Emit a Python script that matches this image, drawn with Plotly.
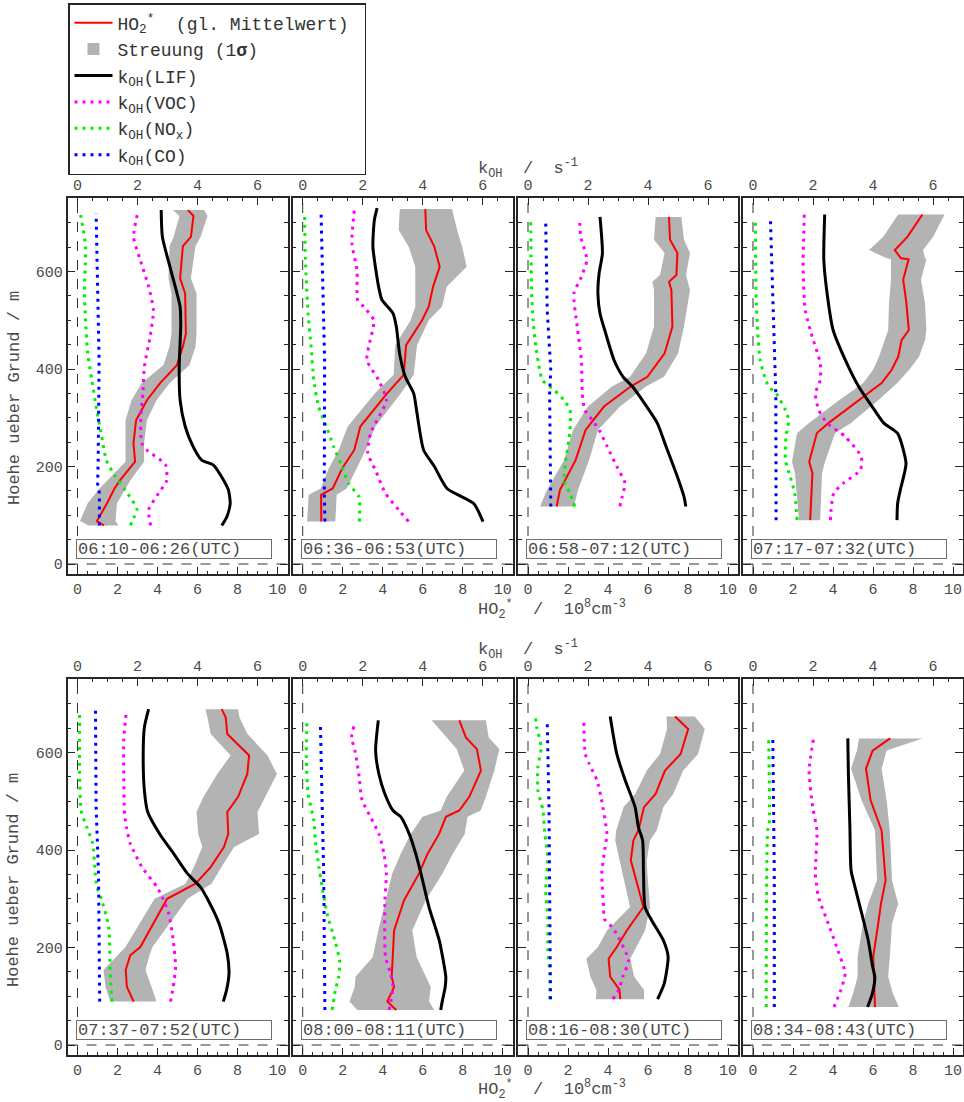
import plotly.graph_objects as go

# ---------------- data (heights in m, HO2* in 1e8 cm^-3, kOH in s^-1) ----------------
TIMES = ["06:10-06:26(UTC)", "06:36-06:53(UTC)", "06:58-07:12(UTC)", "07:17-07:32(UTC)",
         "07:37-07:52(UTC)", "08:00-08:11(UTC)", "08:16-08:30(UTC)", "08:34-08:43(UTC)"]
HO2_TICKS = [0, 2, 4, 6, 8, 10]
KOH_TICKS = [0, 2, 4, 6]
H_TICKS = [0, 200, 400, 600]

# Panel 1
P1_H = [79, 88, 124, 155, 172, 210, 248, 295, 336, 371, 408, 446, 473, 555, 586, 652, 671, 714, 726]
P1_HO2 = [1.33, 0.97, 1.47, 1.85, 2.13, 2.88, 2.8, 2.93, 3.47, 4.13, 4.97, 5.27, 5.42, 5.38, 5.13, 5.27, 5.67, 5.8, 5.52]
P1_LO = [0.55, 0.13, 0.5, 1.1, 1.5, 2.4, 2.4, 2.4, 2.7, 3.2, 4.3, 4.6, 4.7, 4.7, 4.55, 4.6, 4.8, 5.1, 4.77]
P1_HI = [2.05, 1.9, 1.97, 2.4, 2.65, 3.33, 3.33, 3.47, 3.95, 4.6, 5.6, 5.9, 5.95, 5.95, 5.67, 5.9, 6.15, 6.5, 6.33]
P1_LIF_H = [79, 97, 124, 152, 172, 203, 213, 244, 282, 336, 405, 487, 528, 603, 671, 726]
P1_LIF = [4.81, 4.98, 5.09, 5.03, 4.87, 4.53, 4.14, 3.83, 3.59, 3.42, 3.39, 3.44, 3.42, 3.11, 2.83, 2.79]
P1_VOC_H = [79, 111, 145, 169, 203, 234, 248, 302, 350, 405, 466, 521, 569, 624, 671, 721]
P1_VOC = [2.44, 2.37, 2.7, 2.96, 2.94, 2.31, 2.14, 2.11, 2.18, 2.23, 2.42, 2.53, 2.37, 2.09, 1.87, 2.01]
P1_NOX_H = [79, 94, 111, 124, 152, 183, 213, 261, 316, 377, 432, 555, 651, 689, 721]
P1_NOX = [1.76, 1.87, 1.98, 1.89, 1.59, 1.23, 0.96, 0.81, 0.64, 0.48, 0.34, 0.23, 0.27, 0.18, 0.09]
P1_CO_H = [79, 145, 165, 213, 418, 555, 719]
P1_CO = [0.73, 0.73, 0.67, 0.69, 0.72, 0.68, 0.62]

# Panel 2
P2_H = [87, 142, 155, 196, 234, 282, 350, 388, 449, 500, 528, 569, 610, 651, 685, 728]
P2_HO2 = [0.93, 0.92, 1.5, 1.97, 2.58, 2.88, 4.22, 5.05, 5.17, 5.97, 6.3, 6.52, 6.85, 6.58, 6.17, 6.13]
P2_LO = [0.22, 0.3, 0.9, 1.3, 1.8, 2.25, 3.6, 4.55, 4.63, 5.4, 5.63, 5.63, 5.63, 5.3, 4.8, 4.85]
P2_HI = [1.63, 1.7, 2.2, 2.7, 3.15, 3.63, 4.9, 5.55, 5.72, 6.3, 6.97, 7.2, 8.2, 7.97, 7.72, 7.47]
P2_LIF_H = [87, 124, 155, 200, 234, 309, 350, 384, 432, 487, 514, 542, 569, 651, 706, 730]
P2_LIF = [6.01, 5.7, 4.81, 4.39, 4.03, 3.81, 3.7, 3.42, 3.23, 3.12, 3.01, 2.64, 2.53, 2.34, 2.39, 2.48]
P2_VOC_H = [87, 111, 145, 193, 227, 268, 336, 377, 418, 446, 500, 528, 542, 603, 658, 726]
P2_VOC = [3.53, 3.2, 2.76, 2.42, 2.17, 2.26, 2.79, 2.53, 2.14, 2.2, 2.37, 2.03, 1.83, 1.81, 1.64, 1.72]
P2_NOX_H = [87, 138, 165, 200, 241, 282, 323, 377, 446, 514, 624, 721]
P2_NOX = [1.89, 1.87, 1.53, 1.31, 1.03, 0.79, 0.53, 0.37, 0.28, 0.18, 0.09, 0.06]
P2_CO_H = [87, 145, 418, 555, 726]
P2_CO = [0.74, 0.72, 0.73, 0.68, 0.61]

# Panel 3
P3_H = [118, 152, 213, 275, 323, 364, 384, 432, 487, 562, 579, 593, 638, 665, 712]
P3_HO2 = [1.43, 1.6, 2.38, 2.88, 3.8, 5.13, 5.97, 6.83, 7.22, 7.17, 7.05, 7.42, 7.47, 7.1, 7.05]
P3_LO = [0.6, 0.95, 1.8, 2.25, 3.0, 4.2, 5.1, 5.9, 6.3, 6.3, 6.22, 6.6, 6.83, 6.3, 6.38]
P3_HI = [2.3, 2.5, 3.05, 3.5, 4.6, 5.9, 6.8, 7.5, 7.8, 8.1, 8.0, 7.9, 8.1, 7.8, 7.67]
P3_LIF_H = [118, 138, 179, 248, 289, 336, 364, 384, 418, 473, 514, 555, 596, 637, 712]
P3_LIF = [5.26, 5.2, 4.98, 4.56, 4.31, 3.81, 3.48, 3.17, 2.87, 2.59, 2.4, 2.33, 2.37, 2.48, 2.4]
P3_VOC_H = [118, 138, 166, 200, 241, 275, 302, 316, 350, 418, 487, 555, 589, 624, 671, 706]
P3_VOC = [3.06, 3.14, 3.23, 2.96, 2.64, 2.37, 2.06, 1.89, 1.81, 1.78, 1.64, 1.53, 1.78, 1.96, 1.76, 1.72]
P3_NOX_H = [118, 145, 172, 213, 268, 316, 336, 357, 377, 398, 446, 500, 555, 706]
P3_NOX = [1.56, 1.4, 1.2, 1.26, 1.39, 1.4, 1.2, 0.87, 0.48, 0.39, 0.26, 0.17, 0.12, 0.09]
P3_CO_H = [118, 350, 398, 521, 702]
P3_CO = [0.76, 0.72, 0.76, 0.64, 0.59]

# Panel 4
P4_H = [90, 186, 210, 268, 289, 336, 371, 398, 425, 459, 480, 535, 583, 625, 627, 644, 671, 717]
P4_HO2 = [2.86, 2.97, 2.81, 3.19, 3.77, 5.27, 6.43, 6.93, 7.26, 7.43, 7.79, 7.67, 7.51, 7.78, 7.40, 7.09, 7.72, 8.47]
P4_LO = [2.3, 2.1, 1.95, 2.2, 2.8, 4.3, 5.5, 6.0, 6.3, 6.6, 6.76, 6.8, 6.9, 6.9, 6.7, 5.8, 6.5, 7.26]
P4_HI = [3.36, 3.45, 3.6, 4.1, 4.9, 6.26, 7.2, 7.8, 8.3, 8.6, 8.67, 8.6, 8.4, 8.67, 8.6, 8.5, 9.0, 9.58]
P4_LIF_H = [90, 124, 152, 206, 268, 289, 323, 364, 418, 480, 555, 624, 717]
P4_LIF = [4.8, 4.82, 4.91, 5.1, 4.82, 4.36, 3.97, 3.52, 3.08, 2.67, 2.47, 2.36, 2.39]
P4_VOC_H = [90, 145, 166, 193, 220, 261, 289, 316, 350, 377, 412, 473, 521, 610, 717]
P4_VOC = [2.58, 2.69, 3.02, 3.58, 3.61, 3.08, 2.47, 2.19, 2.08, 2.24, 2.24, 1.94, 1.74, 1.67, 1.71]
P4_NOX_H = [90, 145, 179, 213, 261, 295, 316, 350, 364, 384, 418, 473, 555, 709]
P4_NOX = [1.47, 1.39, 1.24, 1.08, 1.1, 1.19, 1.08, 0.77, 0.52, 0.39, 0.24, 0.16, 0.1, 0.08]
P4_CO_H = [90, 350, 487, 712]
P4_CO = [0.77, 0.76, 0.69, 0.58]

# Panel 5
P5_H = [89, 119, 154, 184, 201, 300, 331, 365, 406, 433, 478, 509, 556, 594, 638, 672, 689]
P5_HO2 = [2.81, 2.47, 2.41, 2.64, 3.14, 4.48, 5.9, 6.66, 7.32, 7.54, 7.49, 8.03, 8.49, 8.58, 7.49, 7.41, 7.21]
P5_LO = [1.64, 1.4, 1.3, 2.0, 2.4, 3.85, 5.4, 5.82, 6.24, 6.04, 5.95, 6.3, 6.99, 7.66, 6.66, 6.5, 6.4]
P5_HI = [3.95, 3.7, 3.4, 3.6, 3.75, 5.5, 6.7, 7.2, 7.83, 9.08, 9.0, 9.4, 9.97, 9.5, 8.5, 8.1, 8.03]
P5_LIF_H = [89, 113, 147, 188, 249, 300, 324, 352, 392, 433, 478, 522, 597, 652, 689]
P5_LIF = [4.86, 4.97, 5.05, 4.99, 4.72, 4.33, 4.1, 3.66, 3.21, 2.74, 2.34, 2.23, 2.19, 2.23, 2.37]
P5_VOC_H = [89, 119, 160, 215, 270, 304, 324, 365, 413, 447, 474, 556, 625, 686]
P5_VOC = [3.1, 3.19, 3.27, 3.19, 3.04, 2.82, 2.65, 2.15, 1.76, 1.63, 1.57, 1.54, 1.54, 1.63]
P5_NOX_H = [89, 147, 242, 297, 324, 352, 413, 447, 481, 556, 686]
P5_NOX = [1.15, 1.09, 1.04, 0.81, 0.65, 0.59, 0.51, 0.31, 0.12, 0.07, 0.07]
P5_CO_H = [89, 352, 488, 689]
P5_CO = [0.74, 0.7, 0.62, 0.6]

# Panel 6
P6_H = [72, 89, 119, 140, 180, 235, 297, 352, 392, 433, 468, 481, 509, 563, 607, 631, 666]
P6_HO2 = [4.68, 4.23, 4.57, 4.45, 4.5, 4.57, 5.07, 5.82, 6.24, 6.82, 7.16, 7.83, 8.33, 8.91, 8.71, 8.16, 7.83]
P6_LO = [2.73, 2.34, 2.6, 2.64, 3.5, 3.78, 4.15, 4.48, 4.9, 5.4, 5.99, 6.9, 7.2, 8.08, 7.7, 7.2, 6.45]
P6_HI = [6.57, 6.32, 6.4, 6.15, 5.7, 5.48, 6.15, 6.99, 7.5, 8.1, 8.24, 8.9, 9.16, 9.58, 9.83, 9.3, 9.16]
P6_LIF_H = [72, 92, 119, 140, 215, 283, 352, 392, 433, 468, 481, 515, 556, 604, 666]
P6_LIF = [4.6, 4.66, 4.75, 4.77, 4.55, 4.21, 3.94, 3.77, 3.55, 3.27, 3.01, 2.74, 2.54, 2.43, 2.52]
P6_VOC_H = [72, 119, 147, 181, 297, 352, 392, 433, 468, 502, 556, 604, 631, 655]
P6_VOC = [2.88, 3.01, 2.93, 2.76, 2.74, 2.79, 2.71, 2.54, 2.26, 1.98, 1.87, 1.74, 1.63, 1.71]
P6_NOX_H = [72, 113, 140, 174, 215, 270, 324, 365, 420, 461, 515, 590, 666]
P6_NOX = [0.98, 1.09, 1.2, 1.23, 1.07, 0.81, 0.65, 0.54, 0.42, 0.37, 0.18, 0.12, 0.14]
P6_CO_H = [72, 352, 488, 659]
P6_CO = [0.74, 0.7, 0.65, 0.59]

# Panel 7
P7_H = [94, 113, 140, 177, 201, 235, 283, 352, 379, 420, 440, 488, 515, 563, 597, 648, 674]
P7_HO2 = [4.61, 4.58, 4.11, 4.03, 4.44, 4.94, 5.77, 5.32, 5.14, 5.27, 5.52, 5.8, 6.38, 6.85, 7.63, 8.01, 7.35]
P7_LO = [3.4, 3.42, 3.12, 2.92, 3.5, 3.95, 5.1, 4.74, 4.6, 4.36, 4.41, 4.78, 5.36, 5.94, 6.6, 6.95, 6.93]
P7_HI = [5.8, 5.8, 5.31, 5.11, 5.44, 5.85, 6.1, 5.97, 5.94, 6.1, 6.43, 6.77, 7.26, 7.76, 8.5, 8.84, 8.34]
P7_LIF_H = [94, 126, 181, 215, 256, 283, 352, 420, 447, 488, 543, 597, 674]
P7_LIF = [4.32, 4.54, 4.67, 4.51, 4.12, 3.9, 3.85, 3.82, 3.68, 3.57, 3.24, 2.96, 2.74]
P7_VOC_H = [94, 113, 140, 174, 229, 246, 259, 283, 352, 406, 433, 509, 543, 577, 597, 666]
P7_VOC = [2.83, 3.02, 3.16, 3.35, 2.94, 2.74, 2.54, 2.52, 2.46, 2.57, 2.63, 2.43, 2.3, 2.04, 1.91, 1.86]
P7_NOX_H = [94, 147, 195, 263, 317, 386, 433, 481, 522, 570, 611, 652, 672]
P7_NOX = [0.73, 0.73, 0.66, 0.66, 0.59, 0.66, 0.56, 0.5, 0.33, 0.33, 0.44, 0.29, 0.25]
P7_CO_H = [94, 283, 488, 666]
P7_CO = [0.75, 0.72, 0.7, 0.64]

# Panel 8
P8_H = [78, 105, 140, 181, 249, 290, 338, 440, 502, 567, 604, 629]
P8_HO2 = [6.1, 6.08, 6.05, 6.01, 6.26, 6.4, 6.63, 6.43, 5.88, 5.65, 5.98, 6.86]
P8_LO = [4.77, 5.0, 5.23, 5.23, 5.5, 5.76, 6.2, 6.1, 5.43, 4.9, 5.2, 5.3]
P8_HI = [7.29, 7.0, 6.76, 6.84, 6.95, 7.26, 6.95, 6.84, 6.68, 6.43, 6.68, 8.47]
P8_LIF_H = [78, 106, 140, 160, 215, 283, 324, 358, 447, 556, 629]
P8_LIF = [3.82, 3.98, 4.06, 3.99, 3.84, 3.57, 3.4, 3.27, 3.23, 3.18, 3.16]
P8_VOC_H = [78, 113, 147, 201, 249, 304, 352, 440, 488, 563, 629]
P8_VOC = [2.7, 2.93, 3.07, 2.79, 2.51, 2.18, 2.08, 2.13, 1.99, 1.87, 2.02]
P8_NOX_H = [78, 440, 454, 629]
P8_NOX = [0.44, 0.49, 0.54, 0.52]
P8_CO_H = [78, 352, 629]
P8_CO = [0.71, 0.71, 0.66]

PANELS = [
    (P1_H, P1_HO2, P1_LO, P1_HI, P1_LIF_H, P1_LIF, P1_VOC_H, P1_VOC, P1_NOX_H, P1_NOX, P1_CO_H, P1_CO),
    (P2_H, P2_HO2, P2_LO, P2_HI, P2_LIF_H, P2_LIF, P2_VOC_H, P2_VOC, P2_NOX_H, P2_NOX, P2_CO_H, P2_CO),
    (P3_H, P3_HO2, P3_LO, P3_HI, P3_LIF_H, P3_LIF, P3_VOC_H, P3_VOC, P3_NOX_H, P3_NOX, P3_CO_H, P3_CO),
    (P4_H, P4_HO2, P4_LO, P4_HI, P4_LIF_H, P4_LIF, P4_VOC_H, P4_VOC, P4_NOX_H, P4_NOX, P4_CO_H, P4_CO),
    (P5_H, P5_HO2, P5_LO, P5_HI, P5_LIF_H, P5_LIF, P5_VOC_H, P5_VOC, P5_NOX_H, P5_NOX, P5_CO_H, P5_CO),
    (P6_H, P6_HO2, P6_LO, P6_HI, P6_LIF_H, P6_LIF, P6_VOC_H, P6_VOC, P6_NOX_H, P6_NOX, P6_CO_H, P6_CO),
    (P7_H, P7_HO2, P7_LO, P7_HI, P7_LIF_H, P7_LIF, P7_VOC_H, P7_VOC, P7_NOX_H, P7_NOX, P7_CO_H, P7_CO),
    (P8_H, P8_HO2, P8_LO, P8_HI, P8_LIF_H, P8_LIF, P8_VOC_H, P8_VOC, P8_NOX_H, P8_NOX, P8_CO_H, P8_CO),
]

# ---------------- styling / layout ----------------
W, H = 964, 1102
FONT = "Liberation Mono, Courier New, monospace"
TXT = "#4a4a4a"
FRAME = "#262626"
PANEL_LEFT = [67.5, 292.7, 518.0, 743.0]
PANEL_W = 220.0
ROWS = [(198.0, 574.0), (679.0, 1055.0)]
DOT = "3px,5px"

NAMES = ["HO<sub>2</sub><sup>*</sup>\u00a0\u00a0(gl. Mittelwert)\u00a0",
         "Streuung (1<b>σ</b>)",
         "k<sub>OH</sub>(LIF)",
         "k<sub>OH</sub>(VOC)",
         "k<sub>OH</sub>(NO<sub>x</sub>)",
         "k<sub>OH</sub>(CO)"]


def fx(px):
    return px / W


def fy(py):
    return 1 - py / H


fig = go.Figure()
layout = {}
shapes = []
annotations = []

# legend-only entry for the scatter band (square symbol as in the reference)
fig.add_trace(go.Scatter(x=[None], y=[None], mode="markers",
                         marker=dict(symbol="square", size=12, color="#b3b3b3"),
                         name=NAMES[1], showlegend=True, legendrank=2, hoverinfo="skip"))

for i, p in enumerate(PANELS):
    (h, ho2, lo, hi, lif_h, lif, voc_h, voc, nox_h, nox, co_h, co) = p
    r, c = divmod(i, 4)
    left = PANEL_LEFT[c]
    top, bot = ROWS[r]
    hn, kn = 2 * i + 1, 2 * i + 2
    hid = "x" if hn == 1 else f"x{hn}"
    kid = f"x{kn}"
    yid = "y" if i == 0 else f"y{i + 1}"
    first = i == 0

    # HO2 band and mean (bottom axis)
    fig.add_trace(go.Scatter(x=list(lo) + list(hi)[::-1], y=list(h) + list(h)[::-1],
                             fill="toself", fillcolor="#b3b3b3", mode="lines",
                             line=dict(width=0, color="#b3b3b3"),
                             name=NAMES[1], showlegend=False,
                             xaxis=hid, yaxis=yid, hoverinfo="skip"))
    fig.add_trace(go.Scatter(x=ho2, y=h, mode="lines", line=dict(color="#ff0000", width=2),
                             name=NAMES[0], showlegend=first, legendrank=1,
                             xaxis=hid, yaxis=yid))
    # kOH curves (top axis)
    fig.add_trace(go.Scatter(x=lif, y=lif_h, mode="lines",
                             line=dict(color="#000000", width=3, shape="spline", smoothing=0.6),
                             name=NAMES[2], showlegend=first, legendrank=3,
                             xaxis=kid, yaxis=yid))
    fig.add_trace(go.Scatter(x=voc, y=voc_h, mode="lines",
                             line=dict(color="#ff00ff", width=3, dash=DOT, shape="spline", smoothing=0.6),
                             name=NAMES[3], showlegend=first, legendrank=4,
                             xaxis=kid, yaxis=yid))
    fig.add_trace(go.Scatter(x=nox, y=nox_h, mode="lines",
                             line=dict(color="#00f000", width=3, dash=DOT, shape="spline", smoothing=0.6),
                             name=NAMES[4], showlegend=first, legendrank=5,
                             xaxis=kid, yaxis=yid))
    fig.add_trace(go.Scatter(x=co, y=co_h, mode="lines", line=dict(color="#0000ff", width=3, dash=DOT),
                             name=NAMES[5], showlegend=first, legendrank=6,
                             xaxis=kid, yaxis=yid))

    tickfont = dict(family=FONT, size=15, color=TXT)
    dom_x = [fx(left), fx(left + PANEL_W)]
    layout["xaxis" if hn == 1 else f"xaxis{hn}"] = dict(
        domain=dom_x, anchor=yid, range=[-0.5, 10.5], tickvals=HO2_TICKS,
        ticks="inside", ticklen=7, tickwidth=1.2, tickcolor=FRAME,
        showline=True, linecolor=FRAME, linewidth=1.5, mirror=False,
        showgrid=False, zeroline=False, tickfont=tickfont,
        minor=dict(dtick=0.5, tick0=0, ticks="inside", ticklen=3.5, tickwidth=1, tickcolor=FRAME, showgrid=False))
    layout[f"xaxis{kn}"] = dict(
        domain=dom_x, overlaying=hid, anchor=yid, side="top", range=[-1 / 3, 7.0], tickvals=KOH_TICKS,
        ticks="inside", ticklen=7, tickwidth=1.2, tickcolor=FRAME,
        showline=True, linecolor=FRAME, linewidth=1.5,
        showgrid=False, zeroline=False, tickfont=tickfont,
        minor=dict(dtick=0.5, tick0=0, ticks="inside", ticklen=3.5, tickwidth=1, tickcolor=FRAME, showgrid=False))
    layout["yaxis" if i == 0 else f"yaxis{i + 1}"] = dict(
        domain=[fy(bot), fy(top)], anchor=hid, range=[-20.5, 750.8], tickvals=H_TICKS,
        ticks="inside", ticklen=8, tickwidth=1.2, tickcolor=FRAME,
        showline=True, linecolor=FRAME, linewidth=1.5, mirror="ticks",
        showgrid=False, zeroline=False, tickfont=tickfont, showticklabels=(c == 0),
        minor=dict(dtick=50, tick0=0, ticks="inside", ticklen=4, tickwidth=1, tickcolor=FRAME, showgrid=False))

    # dashed zero lines
    shapes.append(dict(type="line", xref=hid, yref=f"{yid} domain", x0=0, x1=0, y0=0, y1=1,
                       line=dict(color="#333333", width=1, dash="10px,9px"), layer="below"))
    shapes.append(dict(type="line", xref=f"{hid} domain", yref=yid, x0=0, x1=1, y0=0, y1=0,
                       line=dict(color="#333333", width=1, dash="10px,9px"), layer="below"))

    # time label box
    annotations.append(dict(xref="paper", yref="paper", x=fx(left + 8), y=fy(bot - 15),
                            xanchor="left", yanchor="bottom", text=TIMES[i], showarrow=False,
                            font=dict(family=FONT, size=17, color=TXT), align="left",
                            bordercolor="#6e6e6e", borderwidth=1, borderpad=1,
                            width=192, height=16, bgcolor="white"))

# axis titles
title_font = dict(family=FONT, size=17, color=TXT)
K_TITLE = "k<sub>OH</sub>\u00a0\u00a0/\u00a0\u00a0s<sup>-1</sup>"
HO2_TITLE = "HO<sub>2</sub><sup>*</sup>\u00a0\u00a0/\u00a0\u00a010<sup>8</sup>cm<sup>-3</sup>"
Y_TITLE = "Hoehe ueber Grund / m"
for ty in (169, 649):
    annotations.append(dict(xref="paper", yref="paper", x=fx(476), y=fy(ty), xanchor="left", yanchor="middle",
                            text=K_TITLE, showarrow=False, font=title_font))
for ty in (609, 1089):
    annotations.append(dict(xref="paper", yref="paper", x=fx(476), y=fy(ty), xanchor="left", yanchor="middle",
                            text=HO2_TITLE, showarrow=False, font=title_font))
for ty in (398, 880):
    annotations.append(dict(xref="paper", yref="paper", x=fx(14), y=fy(ty), xanchor="center", yanchor="middle",
                            text=Y_TITLE, textangle=-90, showarrow=False, font=title_font))

layout.update(dict(
    width=W, height=H, margin=dict(l=0, r=0, t=0, b=0),
    paper_bgcolor="white", plot_bgcolor="white",
    showlegend=True,
    legend=dict(x=fx(68), y=fy(3), xanchor="left", yanchor="top",
                bordercolor=FRAME, borderwidth=1.5, bgcolor="white",
                font=dict(family=FONT, size=18, color="#333333"),
                itemwidth=38, tracegroupgap=0, traceorder="normal"),
    shapes=shapes, annotations=annotations,
))
fig.update_layout(**layout)
fig.write_html("out.html", config={"displayModeBar": False},
               post_script="document.body.style.margin='0';document.body.style.overflow='hidden';")
